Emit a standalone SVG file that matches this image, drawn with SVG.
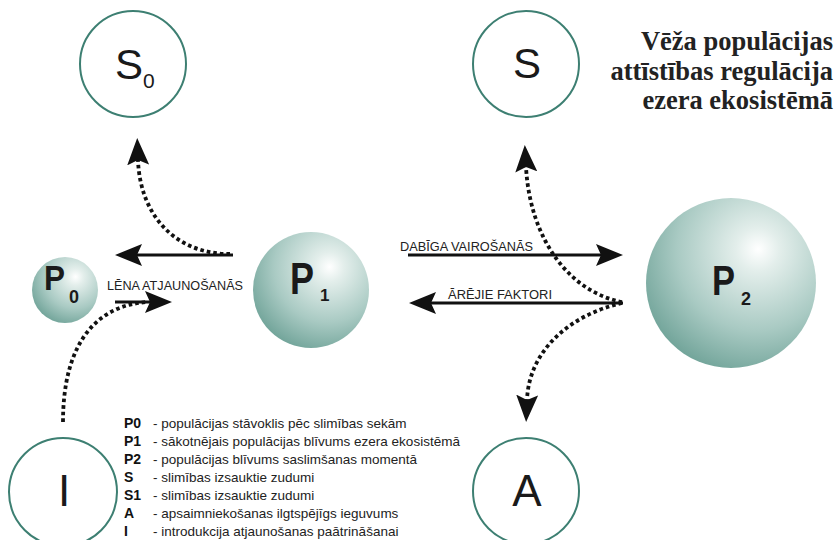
<svg xmlns="http://www.w3.org/2000/svg" width="836" height="540" viewBox="0 0 836 540">
<style>
.ring{fill:#fff;stroke:#3d7f72;stroke-width:2}
.big{font-family:"Liberation Sans",Arial,sans-serif;fill:#1a1a1a}
.pl{font-family:"Liberation Sans",Arial,sans-serif;font-weight:bold;fill:#1a1a1a}
.solid{fill:none;stroke:#111;stroke-width:3.2}
.dots{fill:none;stroke:#111;stroke-width:3.8;stroke-dasharray:3.6 3}
.lab{font-family:"Liberation Sans",Arial,sans-serif;font-size:12px;fill:#222}
.title{font-family:"Liberation Serif","Times New Roman",serif;font-weight:bold;font-size:26.5px;fill:#222;text-anchor:end}
.lk{font-family:"Liberation Sans",Arial,sans-serif;font-weight:bold;font-size:14px;fill:#111}
.ld{font-family:"Liberation Sans",Arial,sans-serif;font-size:13.5px;fill:#222}
</style>
<defs>
<radialGradient id="sph" cx="0.64" cy="0.32" r="0.85" fx="0.66" fy="0.3">
<stop offset="0" stop-color="#ffffff"/>
<stop offset="0.15" stop-color="#e3eeeb"/>
<stop offset="0.55" stop-color="#a9cac3"/>
<stop offset="1" stop-color="#5a9488"/>
</radialGradient>
<marker id="ah" markerUnits="userSpaceOnUse" viewBox="0 0 27 22" markerWidth="27" markerHeight="22" refX="5" refY="11" orient="auto">
<path d="M0,0 L27,11 L0,22 L5,11 z" fill="#111"/>
</marker>
</defs>
<rect width="836" height="540" fill="#fff"/>
<g id="title">
<text class="title" x="833" y="50">Vēža populācijas</text>
<text class="title" x="833" y="80">attīstības regulācija</text>
<text class="title" x="833" y="109">ezera ekosistēmā</text>
</g>
<g id="S0">
<circle class="ring" cx="133" cy="64" r="53"/>
<text class="big" x="115" y="79" font-size="42">S</text>
<text class="big" x="143" y="88" font-size="21">0</text>
</g>
<g id="S">
<circle class="ring" cx="526" cy="64" r="53"/>
<text class="big" x="527" y="78" font-size="42" text-anchor="middle">S</text>
</g>
<g id="I">
<circle class="ring" cx="63" cy="492" r="54"/>
<text class="big" x="64" y="506" font-size="44" text-anchor="middle">I</text>
</g>
<g id="A">
<circle class="ring" cx="526" cy="491" r="53"/>
<text class="big" x="527" y="506" font-size="44" text-anchor="middle">A</text>
</g>
<g id="P0">
<circle cx="65" cy="290" r="33" fill="url(#sph)"/>
<text class="pl" x="44" y="290" font-size="35" textLength="21" lengthAdjust="spacingAndGlyphs">P</text>
<text class="pl" x="69" y="303" font-size="18">0</text>
</g>
<g id="P1">
<circle cx="311" cy="290" r="58" fill="url(#sph)"/>
<text class="pl" x="290" y="294" font-size="44" textLength="24" lengthAdjust="spacingAndGlyphs">P</text>
<text class="pl" x="320" y="301" font-size="17">1</text>
</g>
<g id="P2">
<circle cx="731" cy="283" r="85" fill="url(#sph)"/>
<text class="pl" x="712" y="295" font-size="42" textLength="23" lengthAdjust="spacingAndGlyphs">P</text>
<text class="pl" x="741" y="305" font-size="18">2</text>
</g>
<g id="connectors">
<path class="solid" d="M233,255 H137" marker-end="url(#ah)"/>
<path class="solid" d="M115,302 H150" marker-end="url(#ah)"/>
<path class="solid" d="M408,255 H601" marker-end="url(#ah)"/>
<path class="solid" d="M623,303 H431" marker-end="url(#ah)"/>
<path class="dots" d="M230,254 C175,254 140,215 138,160" marker-end="url(#ah)"/>
<path class="dots" d="M622,302 C570,292 530,240 526,167" marker-end="url(#ah)"/>
<path class="dots" d="M622,303 C570,315 529,350 527,400" marker-end="url(#ah)"/>
<path class="dots" d="M63,422 C63,345 95,305 148,302"/>
<text class="lab" x="107" y="290" textLength="136" lengthAdjust="spacingAndGlyphs">LĒNA ATJAUNOŠANĀS</text>
<text class="lab" x="400" y="251" textLength="133" lengthAdjust="spacingAndGlyphs">DABĪGA VAIROŠANĀS</text>
<text class="lab" x="448" y="299" textLength="104" lengthAdjust="spacingAndGlyphs">ĀRĒJIE FAKTORI</text>
</g>
<g id="legend">
<text class="lk" x="124" y="428">P0</text><text class="ld" x="153" y="428">- populācijas stāvoklis pēc slimības sekām</text>
<text class="lk" x="124" y="446">P1</text><text class="ld" x="153" y="446">- sākotnējais populācijas blīvums ezera ekosistēmā</text>
<text class="lk" x="124" y="464">P2</text><text class="ld" x="153" y="464">- populācijas blīvums saslimšanas momentā</text>
<text class="lk" x="124" y="482">S</text><text class="ld" x="153" y="482">- slimības izsauktie zudumi</text>
<text class="lk" x="124" y="500">S1</text><text class="ld" x="153" y="500">- slimības izsauktie zudumi</text>
<text class="lk" x="124" y="518">A</text><text class="ld" x="153" y="518">- apsaimniekošanas ilgtspējīgs ieguvums</text>
<text class="lk" x="124" y="536">I</text><text class="ld" x="153" y="536">- introdukcija atjaunošanas paātrināšanai</text>
</g>
</svg>
